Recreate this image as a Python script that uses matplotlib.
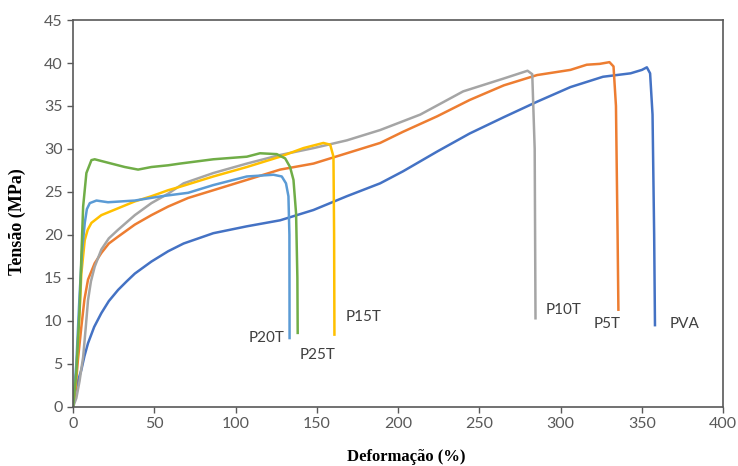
import matplotlib.pyplot as plt

# curvas tensao x deformacao
pva_x = [0, 1, 3, 5.1, 7, 9.2, 13, 17.4, 22, 27.7, 33, 38, 48.2, 58.5, 68, 86.3, 106.9, 127.4,
         147.9, 168.4, 188.9, 203, 224, 244, 265, 285.5, 306, 326, 343, 350, 353, 355, 356.5,
         357.5, 358]
pva_y = [0, 1.5, 3, 4.3, 5.9, 7.4, 9.3, 10.9, 12.3, 13.6, 14.6, 15.5, 16.9, 18.1, 19.0, 20.2, 21.0,
         21.7, 22.9, 24.5, 26.0, 27.4, 29.7, 31.8, 33.7, 35.5, 37.2, 38.4, 38.8, 39.2, 39.5, 38.8,
         34, 20, 9.5]

p5t_x = [0, 1.5, 3, 5.1, 7, 9.2, 13.3, 17.4, 22, 27.7, 38, 48.2, 58.5, 70.8, 86.3, 106.9, 127.4,
         147.9, 168.4, 188.9, 203, 224, 244, 265, 285.5, 306, 316, 324, 330, 332.5, 334, 335, 335.5]
p5t_y = [0, 2, 5.5, 9.3, 12.5, 14.8, 16.7, 17.9, 19, 19.8, 21.2, 22.3, 23.3, 24.3, 25.2, 26.4, 27.6,
         28.3, 29.5, 30.7, 32, 33.8, 35.7, 37.4, 38.6, 39.2, 39.8, 39.9, 40.1, 39.6, 35, 20, 11.3]

p10t_x = [0, 2, 4, 6.2, 7.7, 9.2, 11, 13.3, 17.4, 22, 27.7, 38, 48.2, 58.5, 68, 86.3, 106.9, 127.4,
          147.9, 168.4, 188.9, 213.6, 240, 265, 279.6, 282.5, 284, 284.5]
p10t_y = [0, 1, 3, 5.8, 9, 12.4, 14.6, 16.3, 18.3, 19.6, 20.6, 22.3, 23.7, 24.8, 26.0, 27.2, 28.3,
          29.3, 30.1, 31.0, 32.2, 34, 36.7, 38.2, 39.1, 38.7, 30, 10.3]

p15t_x = [0, 2, 4, 5.1, 7.2, 9, 11.3, 17.4, 27.7, 38, 48.2, 58.5, 65.8, 86.3, 106.9, 127.4, 141.7,
          154, 158.2, 160.2, 160.6, 160.8]
p15t_y = [0, 4, 11, 15.5, 19.4, 20.6, 21.4, 22.3, 23.1, 23.9, 24.5, 25.2, 25.6, 26.8, 27.9, 29.1,
          30.1, 30.7, 30.5, 29.1, 20, 8.4]

p20t_x = [0, 2, 4, 5.5, 7.2, 8.5, 10.3, 14.4, 21.5, 38, 54.4, 70.8, 86.3, 106.9, 123.3, 128.4, 131,
          132.5, 133.1, 133.2]
p20t_y = [0, 5, 13, 18, 21.4, 23, 23.7, 24.0, 23.8, 24.0, 24.5, 24.9, 25.8, 26.8, 27.0, 26.8, 26.0,
          24.5, 20, 8.0]

p25t_x = [0, 2, 4.1, 5.2, 6.2, 8.2, 11.3, 13.3, 21.5, 31.8, 40, 48.2, 58.5, 65.8, 86.3, 106.9, 115,
          125.3, 130.5, 133.5, 135.6, 137.2, 138, 138.2]
p25t_y = [0, 4, 11.7, 18, 23.3, 27.2, 28.7, 28.8, 28.4, 27.9, 27.6, 27.9, 28.1, 28.3, 28.8, 29.1,
          29.5, 29.4, 28.9, 27.9, 26.4, 22.5, 15, 8.6]

names = ["PVA", "P5T", "P10T", "P15T", "P20T", "P25T"]
label_x = [367, 320.5, 291, 167.5, 108, 139.5]
label_y = [9.6, 9.6, 11.3, 10.4, 8.0, 6.0]

series = [(pva_x, pva_y, "#4472C4"), (p5t_x, p5t_y, "#ED7D31"), (p10t_x, p10t_y, "#A5A5A5"),
          (p15t_x, p15t_y, "#FFC000"), (p20t_x, p20t_y, "#5B9BD5"), (p25t_x, p25t_y, "#70AD47")]

fig = plt.figure(figsize=(7.38, 4.66), dpi=100)
ax = fig.add_axes([0.099, 0.127, 0.881, 0.83])

for xs, ys, cor in series:
    ax.plot(xs, ys, color=cor, lw=1.8, solid_joinstyle="round")

for nome, lx, ly in zip(names, label_x, label_y):
    ax.text(lx, ly, nome, fontsize=11, color="#404040", family="Lato", va="center", ha="left")

ax.set_xlim(0, 400)
ax.set_ylim(0, 45)
ax.set_xticks(range(0, 401, 50))
ax.set_yticks(range(0, 46, 5))
for s in ax.spines.values():
    s.set_color("#595959")
    s.set_linewidth(1.2)
ax.tick_params(direction="out", length=4, width=1, color="#595959", labelcolor="#595959",
               labelsize=11.5)
for t in ax.get_xticklabels() + ax.get_yticklabels():
    t.set_family("Lato")

ax.set_xlabel("Deformação (%)", family="Liberation Serif", fontweight="bold", fontsize=12)
ax.set_ylabel("Tensão (MPa)", family="Liberation Serif", fontweight="bold", fontsize=13)
ax.xaxis.set_label_coords(0.512, -0.11)
ax.yaxis.set_label_coords(-0.072, 0.478)

fig.savefig("out.png", dpi=100)
